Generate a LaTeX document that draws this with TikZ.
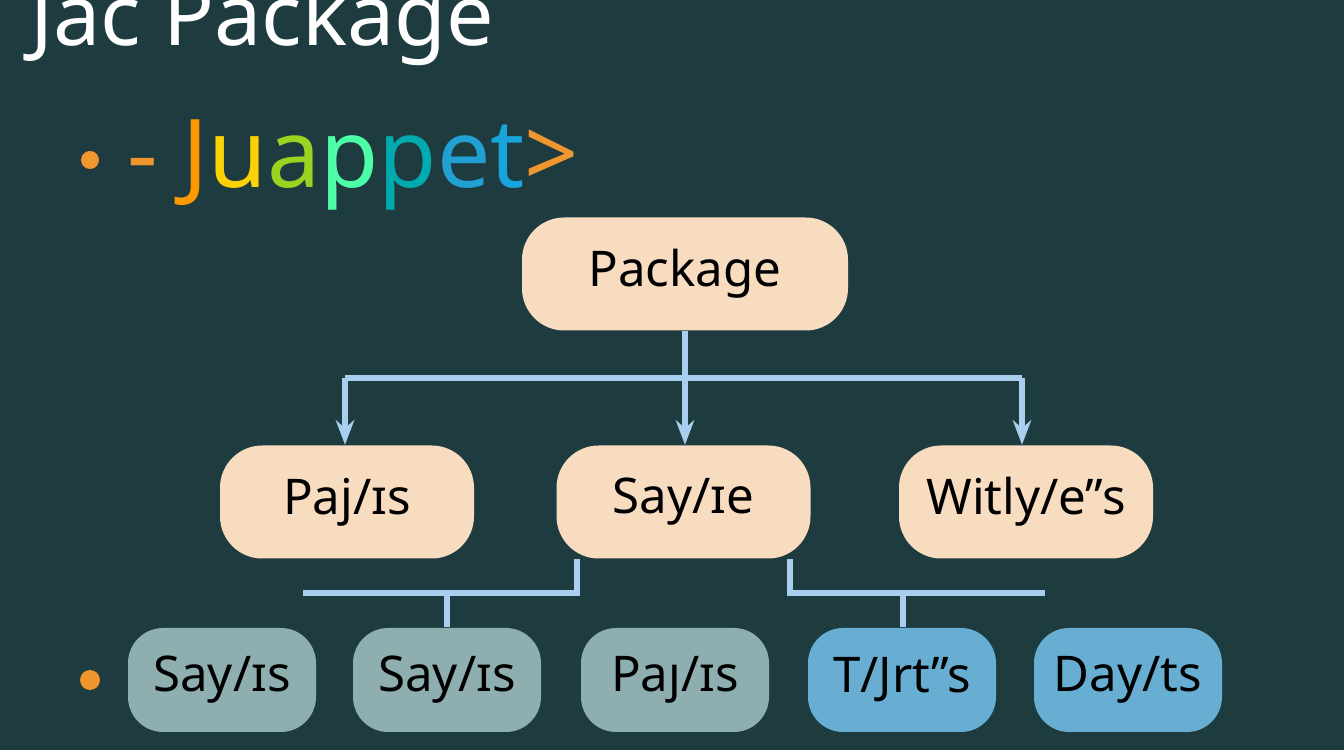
\documentclass[tikz,border=0pt]{standalone}
\usepackage{fontspec}
\setmainfont{Noto Sans}
\usetikzlibrary{arrows.meta, positioning}
\definecolor{bgteal}{HTML}{1E3B40}
\definecolor{peach}{HTML}{F7DCC0}
\definecolor{linkblue}{HTML}{A8D0EE}
\definecolor{greybox}{HTML}{8FAEB0}
\definecolor{bluebox}{HTML}{67AED2}
\definecolor{dotorange}{HTML}{F0962E}
\tikzset{
  pbox/.style={draw=none, fill=peach, rounded corners=12pt, minimum width=2.54cm, minimum height=1.13cm, font=\fontsize{14}{16}\selectfont},
  gbox/.style={draw=none, fill=greybox, rounded corners=10pt, minimum width=1.88cm, minimum height=1.04cm, font=\fontsize{14}{16}\selectfont},
  bbox/.style={gbox, fill=bluebox},
  link/.style={linkblue, line width=1.6pt},
}
\begin{document}
\begin{tikzpicture}
\useasboundingbox (0,0) rectangle (13.44,7.5);
\fill[bgteal] (0,0) rectangle (13.44,7.5);

% Title
\node[white, anchor=west, font=\fontsize{24}{28}\selectfont\bfseries] (title) at (0.18,7.26) {Jac Package};
\fill[dotorange] (0.9,5.9) circle (0.09);
\node[anchor=west, font=\fontsize{27}{30}\selectfont] (sub) at (1.15,5.85)
  {\textcolor{dotorange}{-} \textcolor{orange!80!yellow}{J}\textcolor{yellow!70!orange}{u}\textcolor{yellow!60!green}{a}\textcolor{green!50!cyan!70!white}{p}\textcolor{cyan!60!green}{p}\textcolor{cyan!70!teal}{e}\textcolor{cyan!80!teal}{t}\textcolor{dotorange}{>}};

% Top
\node[pbox, minimum width=3.26cm] (pkg) at (6.85,4.76) {Package};

% Middle row
\node[pbox] (m1) at (3.47,2.48) {Paj/ɪs};
\node[pbox] (m2) at (6.835,2.48) {Say/ɪe};
\node[pbox] (m3) at (10.26,2.48) {Witly/e"s};

\coordinate (bus) at (6.85,3.72);
\draw[link] (pkg.south) -- (bus);
\draw[link] (3.45,3.72) -- (10.22,3.72);
\draw[link, -{Stealth[length=7pt]}] (3.45,3.72) -- (m1.north -| 3.45,0);
\draw[link, -{Stealth[length=7pt]}] (bus) -- (bus |- m2.north);
\draw[link, -{Stealth[length=7pt]}] (10.22,3.72) -- (m3.north -| 10.22,0);

% Bottom row
\fill[dotorange] (0.9,0.7) circle (0.1);
\node[gbox] (b1) at (2.22,0.7) {Say/ɪs};
\node[gbox] (b2) at (4.47,0.7) {Say/ɪs};
\node[gbox] (b3) at (6.75,0.7) {Paȷ/ɪs};
\node[bbox] (b4) at (9.02,0.7) {T/Jrt"s};
\node[bbox] (b5) at (11.28,0.7) {Day/ts};

\draw[link] (m2.south -| 5.77,0) |- (3.03,1.57);
\draw[link] (4.47,1.57) -- (b2.north);
\draw[link] (m2.south -| 7.9,0) |- (10.45,1.57);
\draw[link] (9.03,1.57) -- (9.03,1.57 |- b4.north);
\end{tikzpicture}
\end{document}
